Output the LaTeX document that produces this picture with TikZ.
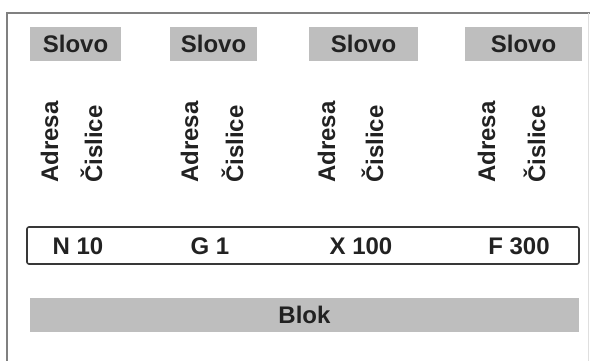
\documentclass[tikz,border=0pt]{standalone}
\usepackage{fontspec}
\setmainfont{Liberation Sans}
\usetikzlibrary{positioning}
\definecolor{barfill}{RGB}{190,190,190}
\definecolor{framegray}{RGB}{128,128,128}
\definecolor{inkgray}{RGB}{34,34,34}
\tikzset{
    % grey header cell holding one word label
    wordbox/.style={fill=barfill, inner sep=0pt, text=inkgray,
                    font=\fontsize{24}{28}\selectfont\bfseries},
    % rotated part label under each word
    partlab/.style={rotate=90, anchor=base west, inner sep=0pt, text=inkgray,
                    font=\fontsize{24}{28}\selectfont\bfseries},
    % plain text inside the block row
    rowtext/.style={inner sep=0pt, text=inkgray,
                    font=\fontsize{24}{28}\selectfont\bfseries},
}

\begin{document}
\begin{tikzpicture}[x=1pt, y=-1pt]
    \useasboundingbox (0,0) rectangle (590,361);

    % ===== outer frame =====
    \draw[framegray, line width=1.8pt] (7,361) -- (7,13) -- (590,13);
    \draw[framegray!25, line width=1pt] (588,13) -- (588,361);

    % ===== word headers =====
    \node[wordbox, minimum width=91pt,  minimum height=34pt] (w1) at (75.5,44)  {Slovo};
    \node[wordbox, minimum width=87pt,  minimum height=34pt] (w2) at (213.5,44) {Slovo};
    \node[wordbox, minimum width=109pt, minimum height=34pt] (w3) at (363.5,44) {Slovo};
    \node[wordbox, minimum width=117pt, minimum height=34pt] (w4) at (523.5,44) {Slovo};

    % ===== address / number parts =====
    \node[partlab] (a1) at (58,183)  {Adresa};
    \node[partlab] (c1) at (102,183) {Čislice};
    \node[partlab] (a2) at (198,183) {Adresa};
    \node[partlab] (c2) at (243,183) {Čislice};
    \node[partlab] (a3) at (335,183) {Adresa};
    \node[partlab] (c3) at (383,183) {Čislice};
    \node[partlab] (a4) at (495,183) {Adresa};
    \node[partlab] (c4) at (545,183) {Čislice};

    % ===== block row =====
    \draw[inkgray!90, line width=1.6pt, fill=white, rounded corners=2pt]
        (27,227) rectangle (579,264);
    \node[rowtext] (n1) at (78,246)  {N 10};
    \node[rowtext] (n2) at (210,246) {G 1};
    \node[rowtext] (n3) at (361,246) {X 100};
    \node[rowtext] (n4) at (519,246) {F 300};

    % ===== block bar =====
    \node[wordbox, minimum width=549pt, minimum height=34pt] (blok) at (304.5,315) {Blok};

\end{tikzpicture}
\end{document}
